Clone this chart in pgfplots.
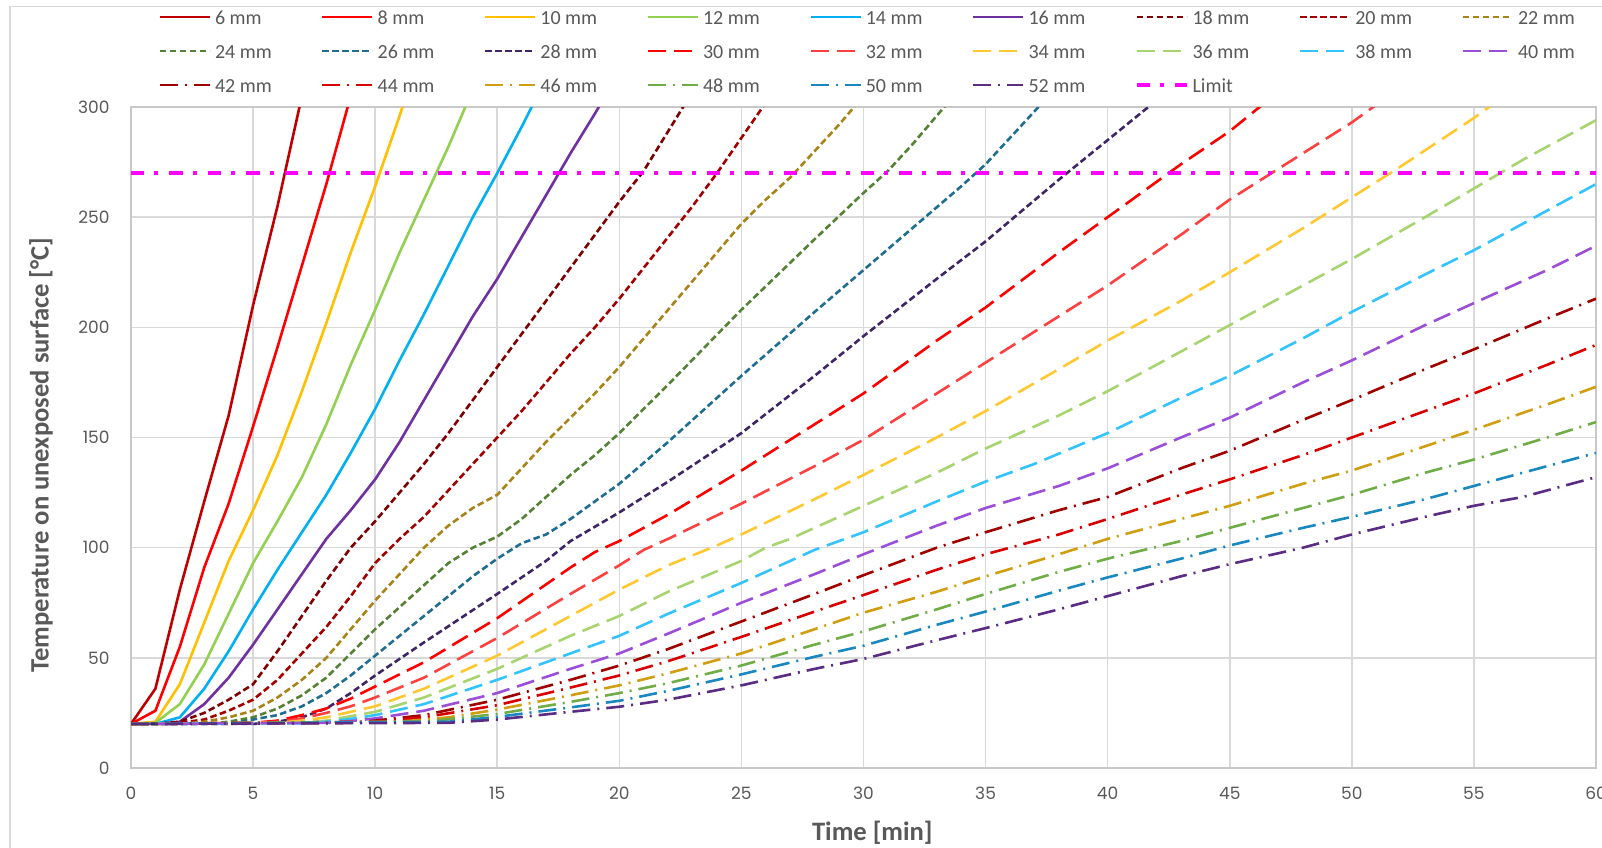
\documentclass[border=0pt]{standalone}
\usepackage{fontspec}
\setmainfont{Carlito}
\newfontfamily\tickfont{Poppins}
\usepackage{pgfplots}
\pgfplotsset{compat=1.18}
\definecolor{txt}{HTML}{595959}
\definecolor{gridc}{HTML}{D9D9D9}
\definecolor{axc}{HTML}{C8C8C8}
\definecolor{c6}{HTML}{C00000}
\definecolor{c8}{HTML}{FF0000}
\definecolor{c10}{HTML}{FFC000}
\definecolor{c12}{HTML}{92D050}
\definecolor{c14}{HTML}{00B0F0}
\definecolor{c16}{HTML}{7030A0}
\definecolor{c18}{HTML}{7F0000}
\definecolor{c20}{HTML}{A50000}
\definecolor{c22}{HTML}{A88418}
\definecolor{c24}{HTML}{548235}
\definecolor{c26}{HTML}{1F6E91}
\definecolor{c28}{HTML}{3D2566}
\definecolor{c30}{HTML}{FF0000}
\definecolor{c32}{HTML}{FF4040}
\definecolor{c34}{HTML}{FFC830}
\definecolor{c36}{HTML}{A8D46F}
\definecolor{c38}{HTML}{33C3FF}
\definecolor{c40}{HTML}{9B4FD9}
\definecolor{c42}{HTML}{A00000}
\definecolor{c44}{HTML}{D80000}
\definecolor{c46}{HTML}{D09E10}
\definecolor{c48}{HTML}{70AD47}
\definecolor{c50}{HTML}{1A88C0}
\definecolor{c52}{HTML}{5B2C83}
\definecolor{lim}{HTML}{FF00FF}
\newcommand{\LE}[1]{\makebox[52pt][l]{\rule[-3pt]{0pt}{13pt}#1}}
\pgfplotsset{
  sl/.style={line width=1.3pt, solid},
  sd/.style={line width=1.3pt, dash pattern=on 3.3pt off 1.7pt},
  ld/.style={line width=1.3pt, dash pattern=on 9pt off 4pt},
  ldd/.style={line width=1.3pt, dash pattern=on 9pt off 3.5pt on 1pt off 3.5pt},
}
\begin{document}
\begin{tikzpicture}
\useasboundingbox (0,0) rectangle (801pt,423.5pt);
\fill[white] (0,0) rectangle (801pt,423.5pt);
\draw[color=gridc, line width=0.8pt] (5pt,-5pt) rectangle (810pt,420.2pt);
\begin{axis}[
  at={(65.5pt,39.5pt)}, anchor=south west, scale only axis,
  width=732.5pt, height=330.5pt,
  xmin=0, xmax=60, ymin=0, ymax=300,
  xtick={0,5,...,60}, ytick={0,50,...,300},
  grid=major, major grid style={draw=gridc, line width=0.8pt},
  axis line style={draw=axc, line width=0.8pt},
  major tick length=0pt,
  tick label style={font=\tickfont\fontsize{8.5}{10}\selectfont, text=txt},
  /pgf/number format/assume math mode=true,
  yticklabel style={inner sep=0pt, xshift=-10.5pt},
  xticklabel style={inner sep=0pt, yshift=-9.2pt},
  xlabel={Time [min]}, ylabel={Temperature on unexposed surface [°C]},
  label style={font=\bfseries\fontsize{13.3}{15}\selectfont, text=txt},
  xlabel style={at={(axis description cs:0.506,-0.0983)}, anchor=center},
  ylabel style={at={(axis description cs:-0.0614,0.4735)}, anchor=center},
  legend columns=9,
  legend cell align=left,
  legend style={at={(axis description cs:0.01843,1.1558)}, anchor=north west, draw=none, fill=none, inner sep=0pt, font=\fontsize{10}{12}\selectfont, text=txt, nodes={inner sep=0pt}, /tikz/every odd column/.append style={column sep=2pt}, /tikz/every even column/.append style={column sep=1.05pt}, row sep=5.5pt},
  legend image code/.code={\draw[#1] (0pt,-0.5pt) -- (25pt,-0.5pt);},
]
\addplot[sl, c6] coordinates {(0,20)(1,36)(2,81)(3,121)(4,160)(5,210)(6,255)(7,305)};
\addlegendentry{\LE{6 mm}}
\addplot[sl, c8] coordinates {(0,20)(1,26)(2,55)(3,91)(4,120)(5,155)(6,191)(7,228)(8,265)(9,305)};
\addlegendentry{\LE{8 mm}}
\addplot[sl, c10] coordinates {(0,20)(1,21)(2,38)(3,66)(4,94)(5,117)(6,142)(7,171)(8,202)(9,234)(10,264)(11,296)(12,330)};
\addlegendentry{\LE{10 mm}}
\addplot[sl, c12] coordinates {(0,20)(1,20.5)(2,29)(3,47)(4,70)(5,93)(6,112)(7,132)(8,156)(9,183)(10,208)(11,234)(12,258)(13,282)(14,308)};
\addlegendentry{\LE{12 mm}}
\addplot[sl, c14] coordinates {(0,20)(1,20)(2,23)(3,36)(4,53)(5,72)(6,90)(7,107)(8,124)(9,143)(10,163)(11,185)(12,206)(13,228)(14,250)(15,270)(16,291)(17,313)};
\addlegendentry{\LE{14 mm}}
\addplot[sl, c16] coordinates {(0,20)(1,20)(2,21)(3,29)(4,41)(5,56)(6,72)(7,88)(8,104)(9,117)(10,131)(11,148)(12,167)(13,186)(14,205)(15,222)(16,241)(17,260)(18,279)(19,297)(20,316)};
\addlegendentry{\LE{16 mm}}
\addplot[sd, c18] coordinates {(0,20)(1,20)(2,21)(3,25)(4,31)(5,38)(6,53)(7,69)(8,85)(9,100)(10,112)(11,125)(12,138)(13,152)(14,167)(15,182)(16,197)(17,212)(18,227)(19,242)(20,257)(21,271)(22,289)(23,307)};
\addlegendentry{\LE{18 mm}}
\addplot[sd, c20] coordinates {(0,20)(1,20)(2,20.5)(3,22)(4,26)(5,31)(6,40)(7,52)(8,64)(9,78)(10,93)(11,104)(12,114)(13,126)(14,138)(15,150)(16,162)(17,175)(18,188)(19,200)(20,213)(21,227)(22,241)(23,255)(24,270)(25,286)(26,302)};
\addlegendentry{\LE{20 mm}}
\addplot[sd, c22] coordinates {(0,20)(2,20)(3,21)(4,23)(5,26)(6,32)(7,40)(8,50)(9,63)(10,76)(11,88)(12,100)(13,110)(14,118)(15,124)(16,136)(17,148)(18,159)(19,170)(20,182)(21,195)(22,208)(23,221)(24,234)(25,247)(26,258)(27,268)(28,280)(29,292)(30,305)};
\addlegendentry{\LE{22 mm}}
\addplot[sd, c24] coordinates {(0,20)(3,20)(4,21)(5,23)(6,27)(7,33)(8,41)(9,52)(10,63)(11,73)(12,83)(13,93)(14,100)(15,105)(16,113)(17,123)(18,133)(19,142)(20,152)(22,174)(25,208)(28,240)(30,261)(31,271)(32,283)(33,296)(34,309)};
\addlegendentry{\LE{24 mm}}
\addplot[sd, c26] coordinates {(0,20)(4,20)(5,22)(6,24)(7,28)(8,34)(9,42)(10,51)(11,60)(12,69)(13,78)(14,87)(15,95)(16,102)(17,106)(18,113)(20,129)(22,148)(25,178)(28,207)(30,226)(32,245)(34,264)(35,274)(36,286)(37,298)(38,310)};
\addlegendentry{\LE{26 mm}}
\addplot[sd, c28] coordinates {(0,20)(5,20)(6,21)(7,23)(8,27)(9,34)(10,42)(12,57)(15,79)(17,94)(18,103)(20,116)(22,130)(25,152)(28,178)(30,196)(33,222)(35,239)(38,267)(40,285)(41,294)(42,303)};
\addlegendentry{\LE{28 mm}}
\addplot[ld, c30] coordinates {(0,20)(5,20.5)(6,21.5)(7,24)(8,27)(9,31.5)(10,37)(12,48)(15,68)(18,91)(19,98)(20,103)(22,115)(25,135)(28,156)(30,170)(33,194)(35,209)(38,234)(40,250)(42,266)(43,274)(45,289)(46,298)(47,307)};
\addlegendentry{\LE{30 mm}}
\addplot[ld, c32] coordinates {(0,20)(5,20.3)(6,21)(7,22.5)(8,25)(9,28)(10,32)(12,41)(15,59)(18,79)(20,92)(21,99)(22,104)(25,120)(28,137)(30,149)(33,170)(35,184)(38,205)(40,219)(43,242)(45,258)(47,272)(50,293)(51,301)};
\addlegendentry{\LE{32 mm}}
\addplot[ld, c34] coordinates {(0,20)(6,20.5)(7,21.5)(8,23)(9,25.5)(10,28)(12,36)(15,51)(18,69)(20,81)(22,92)(24,101)(25,106)(28,122)(30,133)(33,150)(35,162)(38,181)(40,194)(43,212)(45,225)(48,245)(50,259)(52,273)(55,295)(56,303)};
\addlegendentry{\LE{34 mm}}
\addplot[ld, c36] coordinates {(0,20)(7,20.5)(8,21.5)(9,23.5)(10,25.5)(12,32)(15,45)(18,60)(20,69)(22,80)(25,94)(26,100)(27,104)(30,119)(33,134)(35,145)(38,160)(40,171)(43,189)(45,201)(48,219)(50,231)(53,250)(55,263)(57,276)(60,294)};
\addlegendentry{\LE{36 mm}}
\addplot[ld, c38] coordinates {(0,20)(7,20.3)(8,21)(9,22.3)(10,24)(12,29)(15,40)(18,52)(20,60)(22,70)(25,84)(28,99)(30,107)(33,121)(35,130)(37,138)(40,152)(43,168)(45,178)(48,195)(50,207)(53,224)(55,235)(58,253)(60,265)};
\addlegendentry{\LE{38 mm}}
\addplot[ld, c40] coordinates {(0,20)(8,20.5)(9,21.3)(10,22.5)(12,26)(15,34)(18,45)(20,52)(22,61)(25,75)(28,88)(30,97)(33,110)(35,118)(38,128)(40,136)(43,150)(45,159)(48,175)(50,185)(53,201)(55,211)(58,226)(60,237)};
\addlegendentry{\LE{40 mm}}
\addplot[ldd, c42] coordinates {(0,20)(9,20.5)(10,21.5)(12,24)(15,31)(18,40)(20,46.5)(22,54)(25,66.5)(28,79)(30,87.5)(33,100)(35,107)(38,117)(40,123)(43,136)(45,144)(48,158)(50,167)(53,181)(55,190)(58,204)(60,213)};
\addlegendentry{\LE{42 mm}}
\addplot[ldd, c44] coordinates {(0,20)(10,21)(12,23)(15,28.5)(18,36.5)(20,42)(22,48.5)(25,59.5)(28,71)(30,78.5)(33,90)(35,97)(38,106)(40,113)(43,124)(45,131)(48,142)(50,150)(53,162)(55,170)(58,183)(60,192)};
\addlegendentry{\LE{44 mm}}
\addplot[ldd, c46] coordinates {(0,20)(11,21)(13,23)(15,26.5)(18,33)(20,37.5)(22,43)(25,52)(28,63)(30,70.5)(33,80)(35,87)(38,97)(40,104)(43,113)(45,119)(48,129)(50,135)(53,146)(55,153.5)(58,165)(60,173)};
\addlegendentry{\LE{46 mm}}
\addplot[ldd, c48] coordinates {(0,20)(12,21)(15,24.5)(18,30)(20,34)(22,38.5)(25,46.5)(28,56)(30,62)(33,72)(35,79)(38,89)(40,95)(43,103)(45,109)(48,118)(50,124)(53,134)(55,140)(58,150)(60,157)};
\addlegendentry{\LE{48 mm}}
\addplot[ldd, c50] coordinates {(0,20)(13,21)(15,23.2)(18,27.5)(20,30.5)(22,35)(25,42.5)(28,50.5)(30,55.5)(33,65)(35,71)(38,80.5)(40,86.5)(43,95)(45,101)(48,109)(50,114)(53,122)(55,128)(58,137)(60,143)};
\addlegendentry{\LE{50 mm}}
\addplot[ldd, c52] coordinates {(0,20)(13,20.5)(15,22)(18,25.5)(20,27.8)(22,31)(25,37.5)(28,45)(30,49.5)(33,58)(35,63.5)(38,72)(40,78)(43,87)(45,92.5)(48,100)(50,106)(53,114)(55,119)(57,123)(60,132)};
\addlegendentry{\LE{52 mm}}
\addplot[lim, line width=2pt, dash pattern=on 6.7pt off 5pt on 2pt off 5.5pt] coordinates {(0,270)(60,270)};
\addlegendentry{\LE{Limit}}
\end{axis}
\end{tikzpicture}
\end{document}
